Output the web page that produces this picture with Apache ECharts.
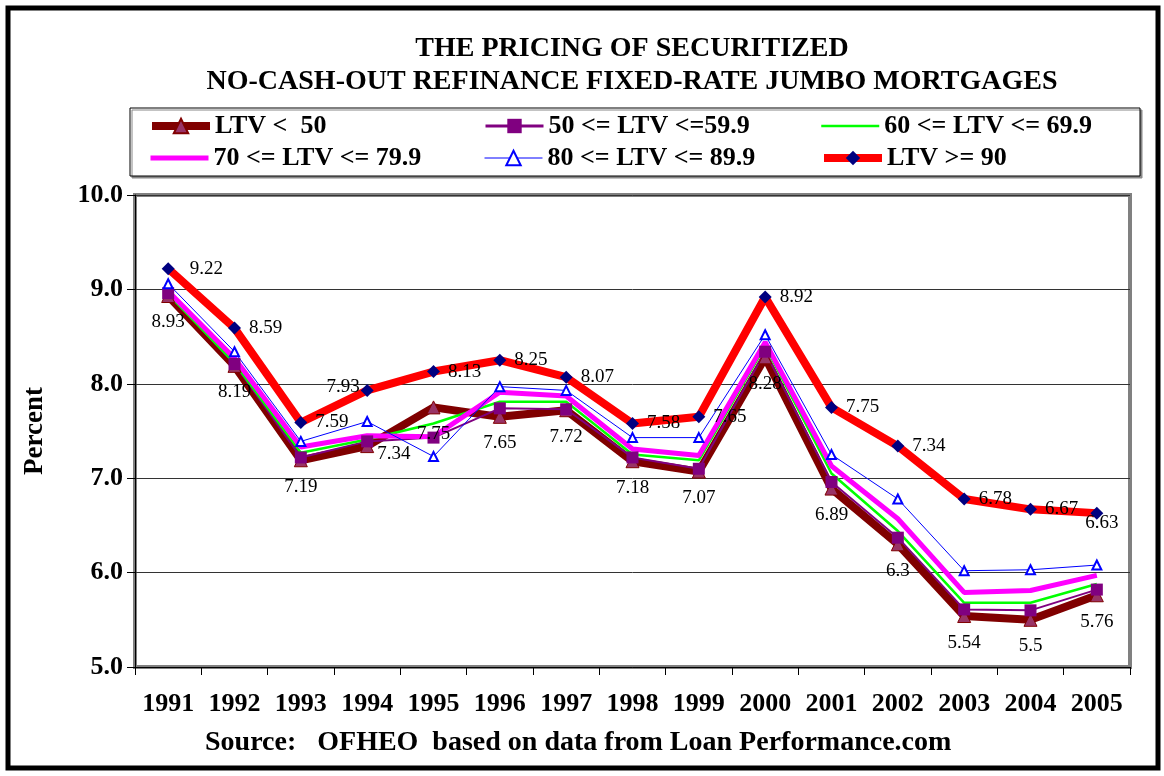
<!DOCTYPE html>
<html>
<head>
<meta charset="utf-8">
<script src="https://cdn.jsdelivr.net/npm/echarts@6/dist/echarts.min.js"></script>
<style>
  html, body { margin: 0; padding: 0; background: #fff; }
  #chart { width: 1164px; height: 776px; }
</style>
</head>
<body>
<div id="chart"></div>
<script>
// years on the x axis
const years = ['1991', '1992', '1993', '1994', '1995', '1996', '1997', '1998',
               '1999', '2000', '2001', '2002', '2003', '2004', '2005'];

// rates in percent, one list per LTV band
const ltvUnder50 = [8.93, 8.19, 7.19, 7.34, 7.75, 7.65, 7.72, 7.18, 7.07, 8.28, 6.89, 6.30, 5.54, 5.50, 5.76];
const ltv50to59  = [8.96, 8.21, 7.22, 7.39, 7.43, 7.74, 7.73, 7.22, 7.10, 8.34, 6.96, 6.37, 5.61, 5.60, 5.82];
const ltv60to69  = [8.95, 8.22, 7.27, 7.41, 7.58, 7.81, 7.81, 7.25, 7.19, 8.40, 7.05, 6.44, 5.68, 5.68, 5.88];
const ltv70to79  = [8.98, 8.27, 7.33, 7.45, 7.44, 7.91, 7.87, 7.31, 7.24, 8.44, 7.13, 6.57, 5.79, 5.81, 5.97];
const ltv80to89  = [9.06, 8.34, 7.39, 7.60, 7.23, 7.97, 7.93, 7.43, 7.43, 8.52, 7.25, 6.78, 6.02, 6.03, 6.08];
const ltvOver90  = [9.22, 8.59, 7.59, 7.93, 8.13, 8.25, 8.07, 7.58, 7.65, 8.92, 7.75, 7.34, 6.78, 6.67, 6.63];

const names = ['LTV <  50', '50 <= LTV <=59.9', '60 <= LTV <= 69.9',
               '70 <= LTV <= 79.9', '80 <= LTV <= 89.9', 'LTV >= 90'];

const serif = "'Liberation Serif', 'Times New Roman', serif";

// a few labels sit somewhere else than the rest of their series
const under50LabelFix = { 3: { position: 'right', distance: 3, offset: [0, 8] } };
const over90LabelFix = {
    0: { offset: [7, 0] },
    3: { position: 'left', distance: 1, offset: [0, -3] },
    14: { position: 'bottom', distance: 0, offset: [5, -6] }
};

function withLabels(values, fix) {
    return values.map(function (v, i) {
        return fix[i] ? { value: v, label: fix[i] } : v;
    });
}

const labelStyle = { show: true, fontFamily: serif, fontSize: 19, color: '#000' };

let chart = echarts.init(document.getElementById('chart'));

// legend line widths (echarts draws 2px by default)
const legendLineWidth = [8, 3, 2.5, 5, 1, 8];
const legendHideSymbol = [false, false, true, true, false, false];

function legendAt(i, left, top) {
    let item = { name: names[i], lineStyle: { width: legendLineWidth[i] } };
    if (legendHideSymbol[i]) {
        item.itemStyle = { opacity: 0 };
    }
    return {
        data: [item],
        left: left,
        top: top,
        padding: 0,
        itemWidth: 58,
        itemHeight: 18,
        itemGap: 0,
        selectedMode: false,
        textStyle: { fontFamily: serif, fontSize: 26, fontWeight: 'bold', color: '#000' }
    };
}

let option = {
    animation: false,
    backgroundColor: '#fff',
    title: {
        text: 'Source:   OFHEO  based on data from Loan Performance.com',
        left: 205,
        top: 729,
        padding: 0,
        textStyle: { fontFamily: serif, fontSize: 28, fontWeight: 'bold', color: '#000' }
    },
    graphic: [{
        type: 'rect',
        silent: true,
        z: 0,
        shape: { x: 8, y: 8, width: 1150, height: 760 },
        style: { fill: null, stroke: '#000', lineWidth: 5 }
    }, {
        type: 'rect',
        silent: true,
        z: 0,
        shape: { x: 130, y: 108, width: 1010, height: 68 },
        style: { fill: '#fff', stroke: '#000', lineWidth: 1,
                 shadowColor: '#888', shadowOffsetX: 2, shadowOffsetY: 2 }
    }, {
        type: 'text',
        silent: true,
        x: 632,
        y: 32,
        style: {
            text: 'THE PRICING OF SECURITIZED\nNO-CASH-OUT REFINANCE FIXED-RATE JUMBO MORTGAGES',
            align: 'center',
            lineHeight: 33,
            font: 'bold 28px ' + serif,
            fill: '#000'
        }
    }],
    legend: [
        legendAt(0, 148, 113),
        legendAt(1, 484, 113),
        legendAt(2, 820, 113),
        legendAt(3, 148, 145),
        legendAt(4, 484, 145),
        legendAt(5, 820, 145)
    ],
    grid: {
        left: 135,
        right: 34,
        top: 195,
        bottom: 109,
        show: true,
        borderColor: '#808080',
        borderWidth: 4
    },
    xAxis: {
        type: 'category',
        data: years,
        boundaryGap: true,
        axisLine: { lineStyle: { color: '#000', width: 1 } },
        axisTick: { show: true, length: 8, lineStyle: { color: '#000' } },
        axisLabel: { interval: 0, margin: 24, fontFamily: serif, fontSize: 26, fontWeight: 'bold', color: '#000' }
    },
    yAxis: {
        type: 'value',
        min: 5,
        max: 10,
        interval: 1,
        name: 'Percent',
        nameLocation: 'middle',
        nameGap: 86,
        nameTextStyle: { fontFamily: serif, fontSize: 27, fontWeight: 'bold', color: '#000' },
        axisLine: { show: true, lineStyle: { color: '#000', width: 1 } },
        axisTick: { show: true, length: 8, lineStyle: { color: '#000' } },
        splitLine: { lineStyle: { color: '#333', width: 1 } },
        axisLabel: {
            margin: 12,
            fontFamily: serif, fontSize: 26, fontWeight: 'bold', color: '#000',
            formatter: function (v) { return v.toFixed(1); }
        }
    },
    series: [{
        name: names[0],
        type: 'line',
        data: withLabels(ltvUnder50, under50LabelFix),
        symbol: 'triangle',
        symbolSize: 13,
        showAllSymbol: true,
        lineStyle: { color: '#800000', width: 8 },
        itemStyle: { color: '#993366', borderColor: '#800000', borderWidth: 1 },
        label: Object.assign({ position: 'bottom', distance: 10 }, labelStyle)
    }, {
        name: names[1],
        type: 'line',
        data: ltv50to59,
        symbol: 'rect',
        symbolSize: 12,
        showAllSymbol: true,
        lineStyle: { color: '#800080', width: 2 },
        itemStyle: { color: '#800080' }
    }, {
        name: names[2],
        type: 'line',
        data: ltv60to69,
        symbol: 'none',
        lineStyle: { color: '#00ff00', width: 2.5 },
        itemStyle: { color: '#00ff00' }
    }, {
        name: names[3],
        type: 'line',
        data: ltv70to79,
        symbol: 'none',
        lineStyle: { color: '#ff00ff', width: 5 },
        itemStyle: { color: '#ff00ff' }
    }, {
        name: names[4],
        type: 'line',
        data: ltv80to89,
        symbol: 'triangle',
        symbolSize: 9,
        showAllSymbol: true,
        lineStyle: { color: '#0000ff', width: 1 },
        itemStyle: { color: '#fff', borderColor: '#0000ff', borderWidth: 2 }
    }, {
        name: names[5],
        type: 'line',
        data: withLabels(ltvOver90, over90LabelFix),
        symbol: 'diamond',
        symbolSize: 13,
        showAllSymbol: true,
        lineStyle: { color: '#ff0000', width: 8 },
        itemStyle: { color: '#000080' },
        label: Object.assign({ position: 'right', distance: 8 }, labelStyle)
    }]
};

chart.setOption(option);
</script>
</body>
</html>
